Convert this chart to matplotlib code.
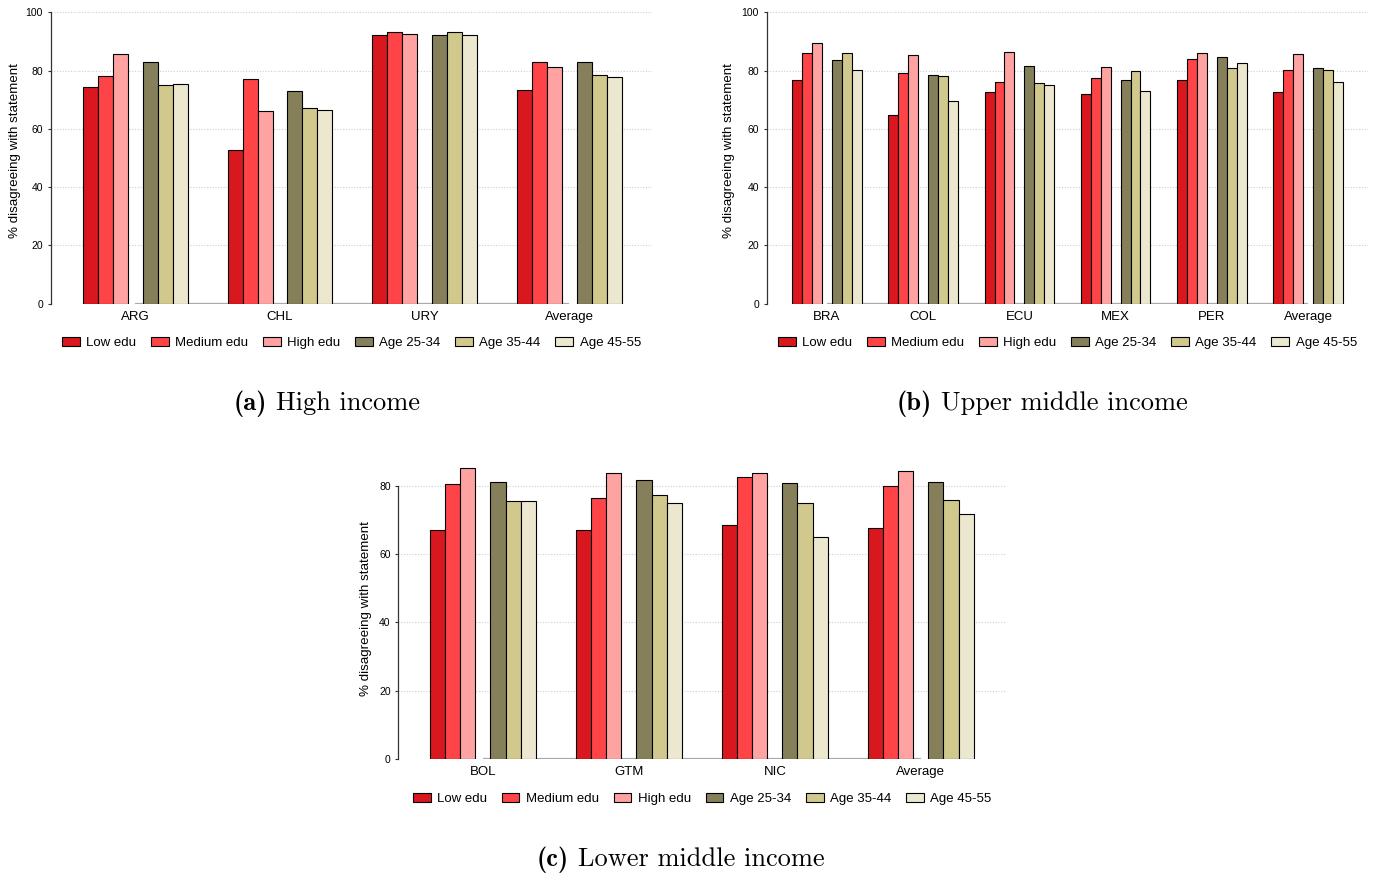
import matplotlib
matplotlib.use("Agg")
import matplotlib.pyplot as plt
import numpy as np

plt.rcParams['font.family'] = ['Liberation Sans', 'DejaVu Sans']

series_names = ["Low edu", "Medium edu", "High edu", "Age 25-34", "Age 35-44", "Age 45-55"]
series_colors = ["#D8181E", "#FF4447", "#FFA2A2", "#857F5A", "#D0C88C", "#ECE7CF"]

# Panel (a) High income
cats_a = ["ARG", "CHL", "URY", "Average"]
low_a = [74.5, 52.9, 92.3, 73.3]
med_a = [78.1, 77.0, 93.4, 82.9]
high_a = [85.7, 66.3, 92.4, 81.4]
age25_a = [83.0, 73.1, 92.1, 82.8]
age35_a = [75.2, 67.3, 93.4, 78.6]
age45_a = [75.4, 66.4, 92.3, 77.9]

# Panel (b) Upper middle income
cats_b = ["BRA", "COL", "ECU", "MEX", "PER", "Average"]
low_b = [76.6, 64.7, 72.6, 71.8, 76.9, 72.5]
med_b = [86.1, 79.0, 76.1, 77.3, 84.0, 80.3]
high_b = [89.5, 85.4, 86.4, 81.3, 85.9, 85.7]
age25_b = [83.5, 78.4, 81.7, 76.8, 84.5, 81.0]
age35_b = [86.2, 78.3, 75.7, 80.0, 80.8, 80.2]
age45_b = [80.3, 69.5, 75.0, 73.0, 82.5, 76.1]

# Panel (c) Lower middle income
cats_c = ["BOL", "GTM", "NIC", "Average"]
low_c = [67.1, 67.1, 68.6, 67.7]
med_c = [80.4, 76.5, 82.5, 79.8]
high_c = [85.3, 83.8, 83.7, 84.2]
age25_c = [81.0, 81.6, 80.7, 81.1]
age35_c = [75.6, 77.2, 75.0, 75.9]
age45_c = [75.6, 74.8, 64.9, 71.8]

yticks_ab = [0, 20, 40, 60, 80, 100]
yticks_c = [0, 20, 40, 60, 80]
ylabel = "% disagreeing with statement"

W = 13.78 * 100
H = 8.77 * 100
fig = plt.figure(figsize=(13.78, 8.77), dpi=100)


def panel(rect, cats, series, yticks, ylim, spine_top, label_xy, legend_y, xlim):
    ax = fig.add_axes(rect)
    x = np.arange(len(cats))
    w = 0.1035
    offsets = [-3, -2, -1, 1, 2, 3]
    for vals, off, col, name in zip(series, offsets, series_colors, series_names):
        ax.bar(x + off * w, vals, width=w, color=col, edgecolor="black",
               linewidth=0.8, label=name, zorder=3)
    # gray baseline between centers of first and last category
    ax.plot([x[0], x[-1]], [0, 0], color="#AAAAAA", lw=1.6, zorder=2,
            solid_capstyle="butt")
    for t in yticks:
        ax.axhline(t, color="#CFCFCF", lw=0.8, ls=(0, (1, 1.5)), zorder=1)
    ax.set_ylim(*ylim)
    ax.set_xlim(*xlim)
    ax.set_yticks(yticks)
    ax.set_xticks(x)
    ax.set_xticklabels(cats, fontsize=9.5)
    ax.tick_params(axis="x", length=0, pad=5)
    ax.tick_params(axis="y", length=2, width=0.8, pad=3.5, labelsize=7.5,
                   color="#333333")
    for s in ["top", "right", "bottom"]:
        ax.spines[s].set_visible(False)
    ax.spines["left"].set_color("#333333")
    ax.spines["left"].set_linewidth(0.9)
    ax.spines["left"].set_bounds(0, spine_top)
    ax.set_ylabel(ylabel, fontsize=9.6)
    ax.yaxis.set_label_coords(*label_xy)
    ax.legend(loc="center", bbox_to_anchor=(0.5, legend_y), ncol=6,
              frameon=False, fontsize=9.5, handlelength=1.35,
              handleheight=0.6, handletextpad=0.5, columnspacing=1.1,
              borderaxespad=0)
    return ax


panel([50.7 / W, 1 - 303.7 / H, (652 - 50.7) / W, 291.4 / H],
      cats_a, [low_a, med_a, high_a, age25_a, age35_a, age45_a],
      yticks_ab, (0, 100), 100, (-0.050, 0.527), -0.135, (-0.586, 3.573))

panel([766.7 / W, 1 - 303.7 / H, (1368 - 766.7) / W, 291.4 / H],
      cats_b, [low_b, med_b, high_b, age25_b, age35_b, age45_b],
      yticks_ab, (0, 100), 100, (-0.0535, 0.527), -0.135, (-0.627, 5.624))

panel([398.3 / W, 1 - 759.3 / H, (1006 - 398.3) / W, 301 / H],
      cats_c, [low_c, med_c, high_c, age25_c, age35_c, age45_c],
      yticks_c, (0, 88), 80, (-0.0425, 0.5), -0.132, (-0.58, 3.584))

renderer = fig.canvas.get_renderer()


def caption(xc, yc, bold, regular, size=19, gap=9):
    tb = fig.text(0, 0, bold, family="cmb10", fontsize=size, va="baseline")
    tr = fig.text(0, 0, regular, family="cmr10", fontsize=size, va="baseline")
    wb = tb.get_window_extent(renderer).width
    wr = tr.get_window_extent(renderer).width
    total = wb + gap + wr
    x0 = xc - total / 2
    ybase = yc + 6
    tb.set_position((x0 / W, 1 - ybase / H))
    tr.set_position(((x0 + wb + gap) / W, 1 - ybase / H))


caption(327, 404, "(a)", "High income")
caption(1042, 404, "(b)", "Upper middle income")
caption(680.5, 860, "(c)", "Lower middle income")

fig.savefig("out.png", dpi=100)
